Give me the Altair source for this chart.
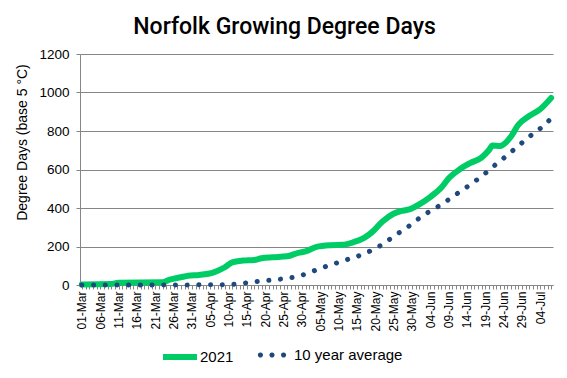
import json
import altair as alt
import pandas as pd

FONT = "Liberation Sans"

# Category axis: one tick per day, 01-Mar .. 07-Jul 2021
dates = pd.date_range("2021-03-01", "2021-07-07", freq="D")
day_labels = [d.strftime("%d-%b") for d in dates]

# 2021 cumulative growing degree days (day index from 01-Mar, value)
gdd_2021_days = [0, 8, 10, 22, 24, 27, 29, 32, 36, 39, 41, 44, 47, 49, 52, 56, 59, 61, 64,
                 68, 71, 74, 77, 79, 82, 85, 87, 89, 92, 95, 98, 100, 103, 106, 109, 111,
                 112, 114, 117, 119, 122, 125, 128]
gdd_2021_vals = [3, 5, 12, 14, 28, 40, 48, 52, 66, 92, 118, 127, 130, 139, 144, 149, 167, 175, 198,
                 207, 209, 222, 245, 272, 330, 370, 384, 391, 419, 457, 505, 553, 600, 634, 662, 700,
                 725, 722, 770, 831, 878, 913, 972]

# 10 year average
avg_days = [0, 39, 43, 46, 49, 53, 56, 59, 62, 65, 68, 72, 75, 78, 81, 83, 86, 89, 91, 94,
            97, 100, 102, 105, 108, 110, 113, 115, 118, 120, 123, 126, 128]
avg_vals = [0, 1, 7, 14, 21, 28, 35, 45, 64, 86, 105, 130, 148, 171, 200, 225, 265, 303, 333, 372,
            406, 443, 470, 509, 550, 580, 628, 658, 706, 738, 785, 828, 866]

series_names = ["2021", "10 year average"]
series_colors = ["#00CC66", "#1F497D"]
y_ticks = [0, 200, 400, 600, 800, 1000, 1200]

df_2021 = pd.DataFrame({"day": gdd_2021_days, "gdd": gdd_2021_vals, "series": series_names[0]})
df_avg = pd.DataFrame({"day": avg_days, "gdd": avg_vals, "series": series_names[1]})

label_expr = "datum.value % 5 == 0 ? " + json.dumps(day_labels) + "[datum.value] : ''"

x_enc = alt.X(
    "day:Q",
    scale=alt.Scale(domain=[-0.5, len(day_labels) - 0.5], nice=False, zero=False),
    axis=alt.Axis(
        values=list(range(len(day_labels))), labelExpr=label_expr, labelAngle=270,
        title=None, grid=False, tickSize=4, tickColor="#868686", domainColor="#868686",
        labelFont=FONT, labelFontSize=12, labelColor="#000000", labelPadding=2,
        labelOverlap=False, labelBound=False, labelFlush=False,
    ),
)
y_enc = alt.Y(
    "gdd:Q",
    scale=alt.Scale(domain=[0, 1200], nice=False),
    axis=alt.Axis(
        values=y_ticks, format="d", title="Degree Days (base 5 °C)", titleFont=FONT, titleFontSize=14,
        titleFontWeight="normal", titleColor="#000000", titleAngle=270, titleX=-58, titleY=88,
        titleAlign="center", titleBaseline="middle",
        grid=True, gridColor="#868686", gridWidth=1, domainColor="#868686",
        tickColor="#868686", tickSize=4, labelFont=FONT, labelFontSize=13.5,
        labelColor="#000000", labelPadding=7,
    ),
)

# three small round dots, as the legend key of the dotted series
def _dot(cx, r=0.1):
    return (f"M{cx - r:.3f},0a{r},{r} 0 1,0 {2 * r},0a{r},{r} 0 1,0 {-2 * r},0z")

DOTS_PATH = _dot(-0.68) + _dot(0.0) + _dot(0.68)

common_legend = dict(
    orient="none", legendY=283, direction="horizontal", title=None,
    symbolSize=1156, labelFont=FONT, labelFontSize=15, labelColor="#000000", padding=0,
)

green = alt.Chart(df_2021).mark_line(
    strokeCap="round", strokeJoin="round", interpolate="monotone", strokeWidth=6
).encode(
    x=x_enc, y=y_enc,
    color=alt.Color(
        "series:N",
        scale=alt.Scale(domain=[series_names[0]], range=[series_colors[0]]),
        legend=alt.Legend(legendX=80, symbolType="stroke", symbolStrokeWidth=6,
                          labelOffset=0, **common_legend),
    ),
)

average = alt.Chart(df_avg).mark_line(
    strokeCap="round", strokeJoin="round", interpolate="monotone",
).encode(
    x=x_enc, y=y_enc,
    strokeWidth=alt.value(5),
    strokeDash=alt.value([0.1, 11.6]),
    color=alt.Color(
        "series:N",
        scale=alt.Scale(domain=[series_names[1]], range=[series_colors[1]]),
        legend=alt.Legend(legendX=174, symbolType=DOTS_PATH, symbolStrokeWidth=1.7,
                          symbolFillColor=series_colors[1], symbolDash=[1, 0],
                          labelOffset=4, **common_legend),
    ),
)

chart = alt.layer(green, average).resolve_scale(color="independent").properties(
    width=473, height=231,
    title=alt.TitleParams(
        "Norfolk Growing Degree Days", font="Roboto", fontSize=23, fontWeight=500,
        color="#000000", anchor="middle", dx=-32, offset=8,
    ),
    autosize=alt.AutoSizeParams(type="none"),
    padding={"left": 72, "top": 46, "right": 6, "bottom": 86},
).configure_view(stroke=None)

chart.save("out.html", embed_options={"renderer": "svg", "actions": False})
